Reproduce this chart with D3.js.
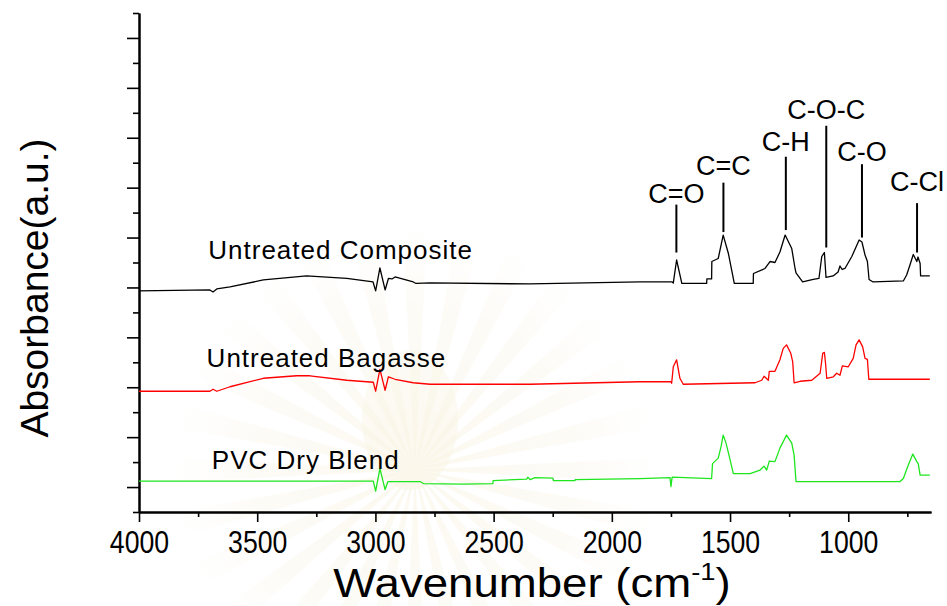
<!DOCTYPE html>
<html>
<head>
<meta charset="utf-8">
<script src="https://cdn.jsdelivr.net/npm/d3@7"></script>
<style>
  html, body { margin: 0; padding: 0; background: #ffffff; }
  svg { display: block; }
  text { font-family: "Liberation Sans", Arial, Helvetica, sans-serif; fill: #000; }
</style>
</head>
<body>
<svg id="chart" width="947" height="606"></svg>
<script>
// FTIR spectra: [wavenumber (cm-1), absorbance (a.u., stacked with offsets)]
const untreatedComposite = [
  [4000,3.93],[3700,3.95],[3687,3.91],[3671,3.97],[3615,4.01],[3474,4.15],[3291,4.23],[3121,4.18],
  [3010,4.11],[2999,3.93],[2981,4.39],[2959,3.95],[2945,4.18],[2930,4.17],[2917,4.21],[2840,4.11],
  [2828,4.08],[2769,4.09],[2346,4.07],[1881,4.11],[1745,4.11],[1740,4.09],[1726,4.55],[1704,4.08],
  [1599,4.08],[1598,4.17],[1578,4.17],[1577,4.52],[1550,4.58],[1529,5.05],[1507,4.68],[1482,4.08],
  [1402,4.08],[1401,4.28],[1352,4.38],[1331,4.52],[1310,4.50],[1289,4.71],[1267,5.05],[1239,4.78],
  [1225,4.38],[1221,4.29],[1193,4.11],[1148,4.16],[1124,4.18],[1112,4.62],[1101,4.70],[1094,4.20],
  [1064,4.23],[1043,4.31],[1035,4.43],[1026,4.36],[1014,4.38],[985,4.62],[954,4.95],[942,4.91],
  [929,4.65],[919,4.52],[912,4.16],[895,4.11],[767,4.13],[753,4.25],[739,4.45],[725,4.66],
  [710,4.52],[705,4.61],[696,4.48],[694,4.23],[655,4.23]
];
const untreatedBagasse = [
  [4000,1.92],[3700,1.92],[3687,1.96],[3671,1.92],[3615,2.01],[3474,2.18],[3333,2.23],[3277,2.23],
  [3121,2.14],[3009,2.10],[2999,1.92],[2981,2.36],[2959,1.94],[2945,2.21],[2917,2.16],[2840,2.09],
  [2769,2.06],[2628,2.06],[2346,2.06],[1881,2.11],[1749,2.11],[1747,2.08],[1740,2.41],[1726,2.55],
  [1712,2.18],[1698,2.06],[1394,2.09],[1366,2.14],[1356,2.22],[1338,2.14],[1334,2.32],[1310,2.32],
  [1289,2.55],[1275,2.78],[1261,2.85],[1243,2.68],[1235,2.51],[1229,2.09],[1204,2.12],[1154,2.14],
  [1119,2.28],[1108,2.68],[1101,2.70],[1096,2.48],[1091,2.18],[1063,2.21],[1049,2.28],[1035,2.24],
  [1025,2.43],[1000,2.41],[979,2.58],[967,2.85],[954,2.95],[939,2.81],[929,2.58],[919,2.56],
  [913,2.16],[655,2.16]
];
const pvcDryBlend = [
  [4000,0.12],[3009,0.12],[2999,-0.08],[2981,0.37],[2959,-0.05],[2947,0.11],[2811,0.11],[2797,0.07],
  [2628,0.06],[2503,0.07],[2502,0.13],[2360,0.16],[2355,0.20],[2346,0.15],[2325,0.19],[2249,0.18],
  [2247,0.13],[2156,0.13],[2155,0.15],[1881,0.17],[1754,0.19],[1750,0.01],[1745,0.20],[1578,0.17],
  [1574,0.47],[1550,0.58],[1538,0.81],[1529,1.04],[1517,0.88],[1503,0.61],[1486,0.27],[1415,0.27],
  [1373,0.34],[1356,0.42],[1345,0.34],[1334,0.52],[1310,0.51],[1289,0.78],[1261,1.04],[1239,0.88],
  [1229,0.64],[1221,0.11],[781,0.11],[767,0.17],[746,0.44],[727,0.66],[718,0.58],[710,0.51],
  [704,0.47],[696,0.24],[655,0.24]
];

// Series names and where their labels sit (wavenumber, absorbance)
const seriesNames = ["Untreated Composite", "Untreated Bagasse", "PVC Dry Blend"];
const seriesLabelWavenumber = [3707, 3714, 3692];
const seriesLabelLevel = [4.58, 2.41, 0.37];

// Band assignments
const peakNames = ["C=O", "C=C", "C-H", "C-O-C", "C-O", "C-Cl"];
const peakWavenumbers = [1727, 1528, 1264, 1093, 942, 709];
const peakLineBase = [4.70, 5.11, 5.15, 4.80, 5.00, 4.70];
const peakLineTop = [5.66, 6.10, 6.62, 7.24, 6.47, 5.69];
const peakLabelLevel = [5.69, 6.25, 6.73, 7.38, 6.54, 5.93];

// Axis ticks
const xMajorTicks = [4000, 3500, 3000, 2500, 2000, 1500, 1000];
const xMinorTicks = [3750, 3250, 2750, 2250, 1750, 1250, 750];
const yMajorTicks = [0, 1, 2, 3, 4, 5, 6, 7, 8, 9];
const yMinorTicks = [-0.5, 0.5, 1.5, 2.5, 3.5, 4.5, 5.5, 6.5, 7.5, 8.5, 9.5];

const xTitle = "Wavenumber (cm";
const xTitleSup = "-1";
const yTitle = "Absorbance(a.u.)";

const series = [
  { name: seriesNames[0], values: untreatedComposite, color: "#000000" },
  { name: seriesNames[1], values: untreatedBagasse, color: "#ff0000" },
  { name: seriesNames[2], values: pvcDryBlend, color: "#1ee61e" }
];

const svg = d3.select("#chart");
const plotLeft = 139, plotRight = 931, plotTop = 13, plotBottom = 512;

const x = d3.scaleLinear().domain([4000, 650]).range([plotLeft, plotRight]);
const y = d3.scaleLinear().domain([-0.5, 9.5]).range([plotBottom, plotTop]);

// Faint background emblem (sunburst)
const defs = svg.append("defs");
const grad = defs.append("radialGradient").attr("id", "glow")
  .attr("cx", 415).attr("cy", 470).attr("r", 240).attr("gradientUnits", "userSpaceOnUse");
grad.append("stop").attr("offset", "0%").attr("stop-color", "#efe2b4").attr("stop-opacity", 0.55);
grad.append("stop").attr("offset", "70%").attr("stop-color", "#f3e9c8").attr("stop-opacity", 0.35);
grad.append("stop").attr("offset", "100%").attr("stop-color", "#f7f0da").attr("stop-opacity", 0);
const emblem = svg.append("g").attr("fill", "url(#glow)").attr("opacity", 0.4);
const nRays = 28;
d3.range(nRays).forEach(i => {
  const a = (i / nRays) * 2 * Math.PI;
  const w = 0.05;
  const r = 240, cx = 415, cy = 470;
  emblem.append("path").attr("d",
    `M${cx},${cy} L${cx + r * Math.cos(a - w)},${cy + r * Math.sin(a - w)} L${cx + r * Math.cos(a + w)},${cy + r * Math.sin(a + w)} Z`);
});
emblem.append("ellipse").attr("cx", 410).attr("cy", 420).attr("rx", 48).attr("ry", 70);

// Axes: minor ticks first, then major ticks
const axisStyle = g => {
  g.selectAll("path.domain").attr("stroke", "#000").attr("stroke-width", 2);
  g.selectAll(".tick line").attr("stroke", "#000").attr("stroke-width", 1.6);
};

svg.append("g").attr("transform", `translate(0,${plotBottom})`)
  .call(d3.axisBottom(x).tickValues(xMinorTicks).tickSize(5).tickSizeOuter(0).tickFormat(""))
  .call(axisStyle);
const xAxis = svg.append("g").attr("transform", `translate(0,${plotBottom})`)
  .call(d3.axisBottom(x).tickValues(xMajorTicks).tickSize(10).tickSizeOuter(0).tickFormat(d3.format("d")))
  .call(axisStyle);
xAxis.selectAll(".tick text")
  .attr("y", 41).attr("dy", 0)
  .attr("font-size", 31)
  .attr("font-family", "Liberation Sans, Arial, sans-serif")
  .attr("fill", "#000")
  .attr("transform", "scale(0.86,1)");

svg.append("g").attr("transform", `translate(${plotLeft},0)`)
  .call(d3.axisLeft(y).tickValues(yMinorTicks).tickSize(6).tickSizeOuter(0).tickFormat(""))
  .call(axisStyle);
svg.append("g").attr("transform", `translate(${plotLeft},0)`)
  .call(d3.axisLeft(y).tickValues(yMajorTicks).tickSize(12).tickSizeOuter(0).tickFormat(""))
  .call(axisStyle);

// Spectra
const line = d3.line().x(d => x(d[0])).y(d => y(d[1]));
svg.append("g").selectAll("path.spectrum")
  .data(series).join("path")
  .attr("class", "spectrum")
  .attr("d", d => line(d.values))
  .attr("fill", "none")
  .attr("stroke", d => d.color)
  .attr("stroke-width", 1.3)
  .attr("stroke-linejoin", "round");

// Series labels
svg.append("g").selectAll("text")
  .data(seriesNames).join("text")
  .attr("x", (d, i) => x(seriesLabelWavenumber[i]))
  .attr("y", (d, i) => y(seriesLabelLevel[i]))
  .attr("font-size", 26)
  .attr("letter-spacing", 1)
  .text(d => d);

// Band assignment markers
const peaks = svg.append("g");
peakNames.forEach((name, i) => {
  peaks.append("line")
    .attr("x1", x(peakWavenumbers[i])).attr("x2", x(peakWavenumbers[i]))
    .attr("y1", y(peakLineBase[i])).attr("y2", y(peakLineTop[i]))
    .attr("stroke", "#000").attr("stroke-width", 2);
  peaks.append("text")
    .attr("x", x(peakWavenumbers[i]))
    .attr("y", y(peakLabelLevel[i]))
    .attr("text-anchor", "middle")
    .attr("font-size", 27)
    .text(name);
});

// Axis titles
const xt = svg.append("text")
  .attr("transform", "translate(532,597) scale(1.14,1)")
  .attr("text-anchor", "middle")
  .attr("font-size", 40);
xt.append("tspan").text(xTitle);
xt.append("tspan").attr("font-size", 24).attr("dy", -17).text(xTitleSup);
xt.append("tspan").attr("font-size", 40).attr("dy", 17).text(")");

svg.append("text")
  .attr("transform", "translate(48,288) rotate(-90)")
  .attr("text-anchor", "middle")
  .attr("font-size", 39)
  .text(yTitle);
</script>
</body>
</html>
